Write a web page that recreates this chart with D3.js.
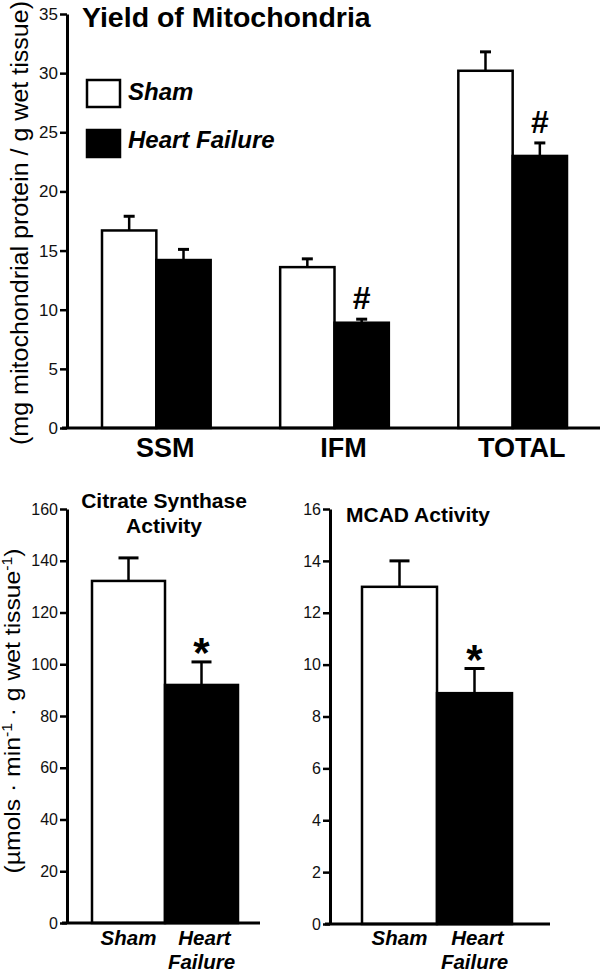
<!DOCTYPE html>
<html>
<head>
<meta charset="utf-8">
<script src="https://cdn.jsdelivr.net/npm/d3@7"></script>
<style>
  html, body { margin: 0; padding: 0; background: #fff; }
  svg { display: block; font-family: "Liberation Sans", Arial, Helvetica, sans-serif; }
  .tick text { fill: #111; }
</style>
</head>
<body>
<svg id="chart" width="600" height="975"></svg>
<script>
// ---------- DATA ----------
const groups = ["SSM", "IFM", "TOTAL"];
const conditions = ["Sham", "Heart Failure"];
const yieldSham = [16.7, 13.6, 30.2];
const yieldShamErr = [1.2, 0.7, 1.6];
const yieldHF = [14.2, 8.9, 23.0];
const yieldHFErr = [0.9, 0.3, 1.1];
const yieldSig = ["", "#", "#"];
const yieldTicks = [0, 5, 10, 15, 20, 25, 30, 35];

const csValues = [132.2, 92.0];
const csErr = [8.9, 8.9];
const csSig = ["", "*"];
const csTicks = [0, 20, 40, 60, 80, 100, 120, 140, 160];

const mcadValues = [13.0, 8.9];
const mcadErr = [1.0, 0.95];
const mcadSig = ["", "*"];
const mcadTicks = [0, 2, 4, 6, 8, 10, 12, 14, 16];

const fills = ["#ffffff", "#000000"];

// ---------- SETUP ----------
const svg = d3.select("#chart");
const AX = 3, BS = 2.5;

function styleAxis(g, fs) {
  g.select(".domain").attr("stroke", "#000").attr("stroke-width", AX);
  g.selectAll(".tick line").attr("stroke", "#000").attr("stroke-width", 2.5);
  g.selectAll(".tick text").attr("font-size", fs);
}

// ---------- TOP CHART ----------
(function () {
  const y = d3.scaleLinear().domain([0, 35]).range([428, 14]);
  const x0 = d3.scaleBand().domain(groups).range([102, 567]).paddingInner(0.39).paddingOuter(0);
  const x1 = d3.scaleBand().domain(conditions).range([0, x0.bandwidth()]).padding(0);

  const g = svg.append("g");

  const rows = groups.map((grp, i) => ({
    grp,
    vals: [
      { c: conditions[0], v: yieldSham[i], e: yieldShamErr[i], s: "" },
      { c: conditions[1], v: yieldHF[i], e: yieldHFErr[i], s: yieldSig[i] }
    ]
  }));

  const gg = g.selectAll(".grp").data(rows).join("g")
    .attr("transform", d => `translate(${x0(d.grp)},0)`);

  gg.selectAll(".err").data(d => d.vals).join("g").each(function (d) {
    const cx = x1(d.c) + x1.bandwidth() / 2;
    const s = d3.select(this);
    s.append("line").attr("x1", cx).attr("x2", cx).attr("y1", y(d.v)).attr("y2", y(d.v + d.e))
      .attr("stroke", "#000").attr("stroke-width", BS);
    s.append("line").attr("x1", cx - 5.5).attr("x2", cx + 5.5).attr("y1", y(d.v + d.e)).attr("y2", y(d.v + d.e))
      .attr("stroke", "#000").attr("stroke-width", 3);
  });

  gg.selectAll("rect").data(d => d.vals).join("rect")
    .attr("x", d => x1(d.c))
    .attr("width", x1.bandwidth())
    .attr("y", d => y(d.v))
    .attr("height", d => y(0) - y(d.v))
    .attr("fill", (d, i) => fills[i])
    .attr("stroke", "#000").attr("stroke-width", BS);

  gg.selectAll(".sig").data(d => d.vals.filter(v => v.s)).join("text")
    .attr("x", d => x1(d.c) + x1.bandwidth() / 2)
    .attr("y", d => y(d.v + d.e) - 10)
    .attr("text-anchor", "middle")
    .attr("font-size", 32).attr("font-weight", "bold")
    .text(d => d.s);

  const ya = g.append("g").attr("transform", "translate(67,0)")
    .call(d3.axisLeft(y).tickValues(yieldTicks).tickSize(7).tickPadding(2).tickSizeOuter(0));
  styleAxis(ya, 17);

  g.append("line").attr("x1", 62).attr("x2", 600).attr("y1", y(0)).attr("y2", y(0))
    .attr("stroke", "#000").attr("stroke-width", AX);

  g.selectAll(".cat").data(groups).join("text")
    .attr("x", d => x0(d) + x0.bandwidth() / 2 + 9)
    .attr("y", 457)
    .attr("text-anchor", "middle")
    .attr("font-size", 27).attr("font-weight", "bold")
    .text(d => d);

  g.append("text").attr("x", 82).attr("y", 27)
    .attr("font-size", 28.5).attr("font-weight", "bold").text("Yield of Mitochondria");

  const leg = g.append("g");
  conditions.forEach((c, i) => {
    leg.append("rect").attr("x", 87).attr("y", 80 + i * 50).attr("width", 33).attr("height", 27)
      .attr("fill", fills[i]).attr("stroke", "#000").attr("stroke-width", BS);
    leg.append("text").attr("x", 128).attr("y", 100 + i * 48)
      .attr("font-size", 24).attr("font-weight", "bold").attr("font-style", "italic").text(c);
  });

  g.append("text")
    .attr("transform", "translate(28,223) rotate(-90)")
    .attr("text-anchor", "middle")
    .attr("font-size", 23)
    .attr("textLength", 444).attr("lengthAdjust", "spacingAndGlyphs")
    .text("(mg mitochondrial protein / g wet tissue)");
})();

// ---------- BOTTOM CHARTS ----------
function smallChart(opts) {
  const y = d3.scaleLinear().domain([0, opts.max]).range([opts.y0, 509]);
  const x = d3.scaleBand().domain(conditions).range(opts.xr).padding(0);
  const g = svg.append("g");
  const data = conditions.map((c, i) => ({ c, v: opts.values[i], e: opts.err[i], s: opts.sig[i] }));

  g.selectAll(".err").data(data).join("g").each(function (d) {
    const cx = x(d.c) + x.bandwidth() / 2;
    const s = d3.select(this);
    s.append("line").attr("x1", cx).attr("x2", cx).attr("y1", y(d.v)).attr("y2", y(d.v + d.e))
      .attr("stroke", "#000").attr("stroke-width", BS);
    s.append("line").attr("x1", cx - 10).attr("x2", cx + 10).attr("y1", y(d.v + d.e)).attr("y2", y(d.v + d.e))
      .attr("stroke", "#000").attr("stroke-width", 3);
  });

  g.selectAll("rect").data(data).join("rect")
    .attr("x", d => x(d.c)).attr("width", x.bandwidth())
    .attr("y", d => y(d.v)).attr("height", d => y(0) - y(d.v))
    .attr("fill", (d, i) => fills[i]).attr("stroke", "#000").attr("stroke-width", BS);

  g.selectAll(".sig").data(data.filter(d => d.s)).join("text")
    .attr("x", d => x(d.c) + x.bandwidth() / 2)
    .attr("y", d => y(d.v + d.e) + 5)
    .attr("text-anchor", "middle")
    .attr("font-size", 42).attr("font-weight", "bold")
    .text(d => d.s);

  const ya = g.append("g").attr("transform", `translate(${opts.ax},0)`)
    .call(d3.axisLeft(y).tickValues(opts.ticks).tickSize(7).tickPadding(2).tickSizeOuter(0));
  styleAxis(ya, 16);

  g.append("line").attr("x1", opts.ax - 5).attr("x2", opts.xEnd).attr("y1", y(0)).attr("y2", y(0))
    .attr("stroke", "#000").attr("stroke-width", AX);

  // x labels: each word its own text element
  conditions.forEach(c => {
    const words = c.split(" ");
    words.forEach((w, i) => {
      g.append("text")
        .attr("x", x(c) + x.bandwidth() / 2 + (i === 0 && words.length > 1 ? 3 : 0))
        .attr("y", 945 + i * 24)
        .attr("text-anchor", "middle")
        .attr("font-size", 20.5).attr("font-weight", "bold").attr("font-style", "italic")
        .text(w);
    });
  });

  const tt = g.append("text").attr("font-size", 21).attr("font-weight", "bold")
    .attr("text-anchor", opts.titleAnchor);
  opts.title.forEach((line, i) => {
    tt.append("tspan").attr("x", opts.titleX).attr("y", opts.titleY + i * 25).text(line);
  });
  return g;
}

smallChart({
  max: 160, y0: 923, xr: [92, 238], ax: 67, xEnd: 260,
  values: csValues, err: csErr, sig: csSig, ticks: csTicks,
  title: ["Citrate Synthase", "Activity"], titleX: 164, titleY: 508, titleAnchor: "middle"
});

smallChart({
  max: 16, y0: 924, xr: [362, 512], ax: 330, xEnd: 550,
  values: mcadValues, err: mcadErr, sig: mcadSig, ticks: mcadTicks,
  title: ["MCAD Activity"], titleX: 346, titleY: 522, titleAnchor: "start"
});

const yl = svg.append("text")
  .attr("transform", "translate(20,711) rotate(-90)")
  .attr("text-anchor", "middle")
  .attr("font-size", 22)
  .attr("textLength", 325).attr("lengthAdjust", "spacingAndGlyphs");
yl.append("tspan").text("(µmols · min");
yl.append("tspan").attr("dy", -8).attr("font-size", 14).text("-1");
yl.append("tspan").attr("dy", 8).text(" · g wet tissue");
yl.append("tspan").attr("dy", -8).attr("font-size", 14).text("-1");
yl.append("tspan").attr("dy", 8).text(")");
</script>
</body>
</html>
